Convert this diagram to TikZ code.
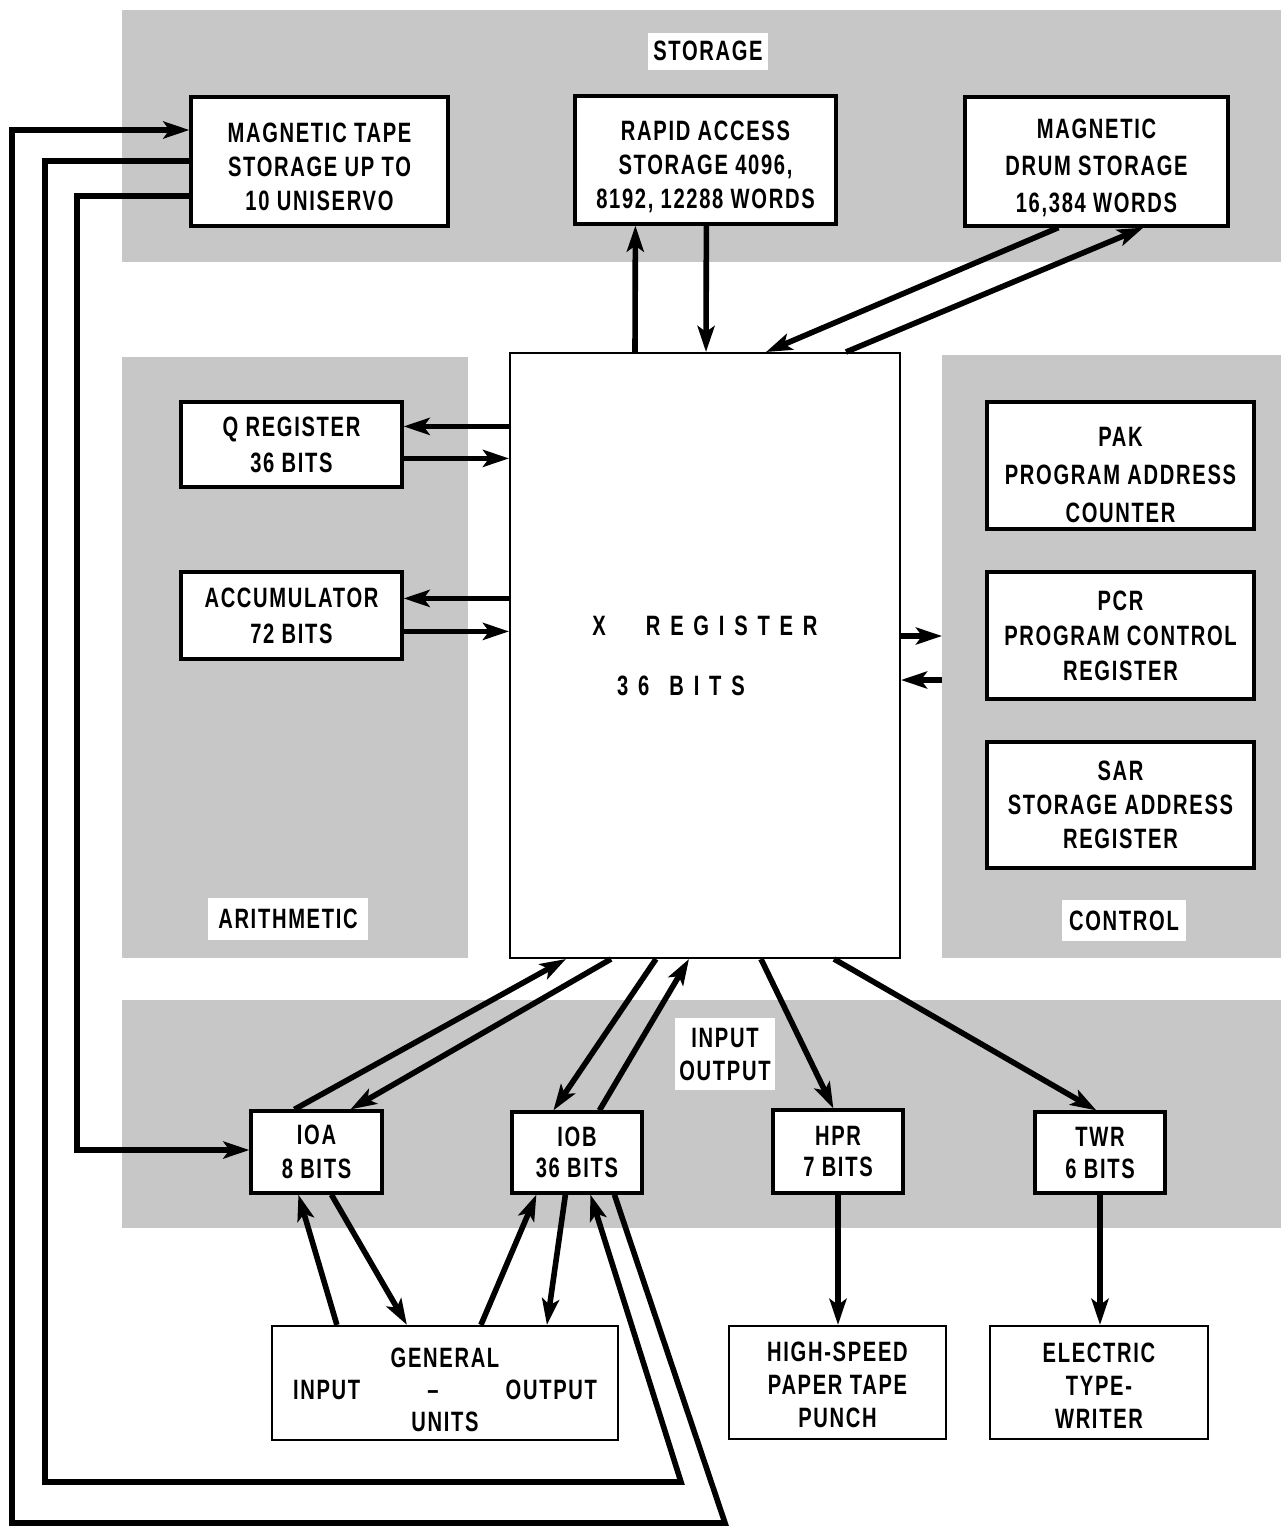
\documentclass[tikz,border=0pt]{standalone}
\usepackage{fontspec}
\setmainfont{Liberation Sans}
\newfontfamily\lbl[FakeStretch=0.72,LetterSpace=6]{Liberation Sans}
\newfontfamily\lblwide[FakeStretch=0.72,LetterSpace=35]{Liberation Sans}
\newcommand\dn[1]{\rule{0pt}{#1}}
\usetikzlibrary{arrows.meta,calc}
\tikzset{
  region/.style={fill=black!22, draw=none},
  box/.style={draw, line width=1.6pt, fill=white, align=center, inner sep=0pt,
    font=\lbl\bfseries\fontsize{14}{17}\selectfont},
  thinbox/.style={box, line width=1.1pt},
  tag/.style={fill=white, inner sep=0pt, align=center,
    font=\lbl\bfseries\fontsize{14}{16.5}\selectfont},
  arr/.style={line width=2.8pt, line join=miter,
    -{Stealth[length=13pt,width=8.5pt,inset=3pt]}},
}
\begin{document}
\begin{tikzpicture}[x=0.5pt,y=-0.5pt]
\useasboundingbox (0,0) rectangle (1281,1526);
% shaded regions
\fill[region] (122,10) rectangle (1281,262);
\fill[region] (122,357) rectangle (468,958);
\fill[region] (942,355) rectangle (1281,958);
\fill[region] (122,1000) rectangle (1281,1228);
% region labels
\node[tag, minimum width=60pt, minimum height=18.5pt] (lstor) at (708,51) {STORAGE};
\node[tag, minimum width=80pt, minimum height=21pt] (larith) at (288,919) {ARITHMETIC};
\node[tag, minimum width=62pt, minimum height=20.5pt] (lctrl) at (1124,920.5) {CONTROL};
\node[tag, minimum width=50pt, minimum height=36pt] (lio) at (725,1054) {INPUT\\OUTPUT};
% boxes
\node[box, minimum width=128.5pt, minimum height=64.5pt] (tape) at (319.5,161.5) {\dn{15pt}MAGNETIC TAPE\\STORAGE UP TO\\10 UNISERVO};
\node[box, minimum width=130.5pt, minimum height=64pt] (rapid) at (705.5,160) {\dn{16.5pt}RAPID ACCESS\\STORAGE 4096,\\8192, 12288 WORDS};
\node[box, minimum width=131.5pt, minimum height=64.5pt, font=\lbl\bfseries\fontsize{14}{18.5}\selectfont] (drum) at (1096.5,161.5) {\dn{16pt}MAGNETIC\\DRUM STORAGE\\16,384 WORDS};
\node[box, line width=1pt, minimum width=195pt, minimum height=302.5pt, font=\lblwide\bfseries\fontsize{14}{30}\selectfont] (xreg) at (705,655.5) {X\hspace{20pt}REGISTER\\36\hspace{10pt}BITS\hspace*{24pt}};
\node[box, minimum width=110.5pt, minimum height=42.5pt, font=\lbl\bfseries\fontsize{14}{18}\selectfont] (qreg) at (291.5,444.5) {Q REGISTER\\36 BITS};
\node[box, minimum width=110.5pt, minimum height=43.5pt, font=\lbl\bfseries\fontsize{14}{18}\selectfont] (acc) at (291.5,615.5) {ACCUMULATOR\\72 BITS};
\node[box, minimum width=133.5pt, minimum height=63.5pt, font=\lbl\bfseries\fontsize{14}{19}\selectfont] (pak) at (1120.5,465.5) {\dn{19pt}PAK\\PROGRAM ADDRESS\\COUNTER};
\node[box, minimum width=133.5pt, minimum height=63.5pt, font=\lbl\bfseries\fontsize{14}{17.5}\selectfont] (pcr) at (1120.5,635.5) {PCR\\PROGRAM CONTROL\\REGISTER};
\node[box, minimum width=133.5pt, minimum height=63pt] (sar) at (1120.5,805) {SAR\\STORAGE ADDRESS\\REGISTER};
\node[box, minimum width=65.5pt, minimum height=41pt] (ioa) at (316.5,1152) {IOA\\8 BITS};
\node[box, minimum width=65pt, minimum height=40.5pt, font=\lbl\bfseries\fontsize{14}{15.5}\selectfont] (iob) at (577,1152.5) {IOB\\36 BITS};
\node[box, minimum width=65pt, minimum height=41.5pt, font=\lbl\bfseries\fontsize{14}{15.5}\selectfont] (hpr) at (838,1151.5) {HPR\\7 BITS};
\node[box, minimum width=65pt, minimum height=40.5pt, font=\lbl\bfseries\fontsize{14}{16}\selectfont] (twr) at (1100,1152.5) {TWR\\6 BITS};
\node[thinbox, minimum width=173pt, minimum height=57pt, font=\lbl\bfseries\fontsize{14}{16}\selectfont] (gen) at (445,1383) {\dn{16.5pt}GENERAL\\\makebox[152pt]{INPUT\hfill\textendash\hfill OUTPUT}\\UNITS};
\node[thinbox, minimum width=108.5pt, minimum height=56.5pt, font=\lbl\bfseries\fontsize{14}{16.5}\selectfont] (hsp) at (837.5,1382.5) {\dn{12pt}HIGH-SPEED\\PAPER TAPE\\PUNCH};
\node[thinbox, minimum width=109pt, minimum height=56.5pt, font=\lbl\bfseries\fontsize{14}{16.5}\selectfont] (ele) at (1099,1382.5) {\dn{13pt}ELECTRIC\\TYPE-\\WRITER};
% storage <-> X
\draw[arr] ($(xreg.north west)+(126,0)$) -- ($(rapid.south west)+(62,0)$);
\draw[arr] ($(rapid.south west)+(133,0)$) -- ($(xreg.north west)+(197,0)$);
\draw[arr] ($(drum.south west)+(95,0)$) -- ($(xreg.north west)+(257,0)$);
\draw[arr] ($(xreg.north west)+(337,0)$) -- ($(drum.south west)+(180,0)$);
% arithmetic <-> X
\coordinate (qa) at ($(qreg.north east)+(0,26)$);
\coordinate (qb) at ($(qreg.north east)+(0,58)$);
\coordinate (aa) at ($(acc.north east)+(0,28)$);
\coordinate (ab) at ($(acc.north east)+(0,61)$);
\draw[arr] (xreg.west |- qa) -- (qa);
\draw[arr] (qb) -- (xreg.west |- qb);
\draw[arr] (xreg.west |- aa) -- (aa);
\draw[arr] (ab) -- (xreg.west |- ab);
% control <-> X
\coordinate (ca) at (942,636);
\coordinate (cb) at (942,680);
\draw[arr] (xreg.east |- ca) -- (ca);
\draw[arr] (cb) -- (xreg.east |- cb);
% X <-> input output
\draw[arr] ($(ioa.north west)+(45,0)$) -- ($(xreg.south west)+(57,0)$);
\draw[arr] ($(xreg.south west)+(102,0)$) -- ($(ioa.north west)+(101,0)$);
\draw[arr] ($(xreg.south west)+(147,0)$) -- ($(iob.north west)+(43,0)$);
\draw[arr] ($(iob.north west)+(89,0)$) -- ($(xreg.south west)+(180,0)$);
\draw[arr] ($(xreg.south west)+(252,0)$) -- ($(hpr.north west)+(62,0)$);
\draw[arr] ($(xreg.south west)+(325,0)$) -- ($(twr.north west)+(63,0)$);
\draw[arr] (hpr.south) -- (hpr.south |- hsp.north);
\draw[arr] (twr.south) -- (twr.south |- ele.north);
% IOA/IOB <-> general units
\draw[arr] ($(gen.north west)+(66,0)$) -- ($(ioa.south west)+(49,0)$);
\draw[arr] ($(ioa.south west)+(82,0)$) -- ($(gen.north west)+(136,0)$);
\draw[arr] ($(gen.north west)+(210,0)$) -- ($(iob.south west)+(26,0)$);
\draw[arr] ($(iob.south west)+(55,0)$) -- ($(gen.north west)+(276,0)$);
% magnetic tape loops
\coordinate (k1) at (725,1523);
\coordinate (k2) at (12,1523);
\coordinate (k3) at (12,130);
\coordinate (m1) at (45,161);
\coordinate (m2) at (45,1482);
\coordinate (m3) at (681,1482);
\coordinate (n1) at (77,196);
\coordinate (n2) at (77,1150);
\draw[arr] ($(iob.south west)+(104,0)$) -- (k1) -- (k2) -- (k3) -- (tape.west |- k3);
\draw[arr] (tape.west |- m1) -- (m1) -- (m2) -- (m3) -- ($(iob.south west)+(80,0)$);
\draw[arr] (tape.west |- n1) -- (n1) -- (n2) -- (ioa.west |- n2);
\end{tikzpicture}
\end{document}
